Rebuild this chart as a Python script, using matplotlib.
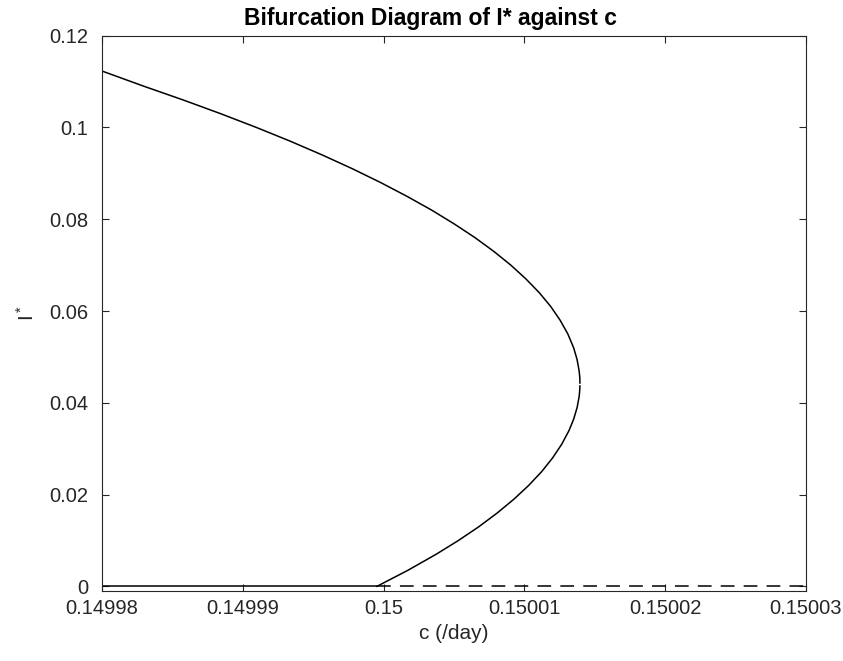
import matplotlib
matplotlib.use("Agg")
import matplotlib.pyplot as plt

plt.rcParams['font.family'] = ['Liberation Sans', 'DejaVu Sans']

# --- DATA ---
# equilibrium branch I* against c (upper branch -> turning point -> lower branch)
c_branch = [0.14998000, 0.14998296, 0.14998576, 0.14998843, 0.14999097,
            0.14999338, 0.14999565, 0.14999779, 0.14999979, 0.15000166,
            0.15000341, 0.15000501, 0.15000649, 0.15000783, 0.15000904,
            0.15001011, 0.15001106, 0.15001187, 0.15001254, 0.15001309,
            0.15001350, 0.15001374, 0.15001389, 0.15001394, 0.15001395,
            0.15001394, 0.15001390, 0.15001375, 0.15001351, 0.15001318,
            0.15001266, 0.15001201, 0.15001123, 0.15001031, 0.15000926,
            0.15000808, 0.15000677, 0.15000532, 0.15000374, 0.15000173,
            0.14999953]
I_branch = [0.1123, 0.109, 0.106, 0.103, 0.100,
            0.097, 0.094, 0.091, 0.088, 0.085,
            0.082, 0.079, 0.076, 0.073, 0.070,
            0.067, 0.064, 0.061, 0.058, 0.055,
            0.052, 0.0495, 0.047, 0.0455, 0.0442,
            0.043, 0.0415, 0.039, 0.0365, 0.034,
            0.031, 0.028, 0.025, 0.022, 0.019,
            0.016, 0.013, 0.010, 0.007, 0.0035,
            0.0]
c_turn, I_turn = 0.15001395, 0.0442

# disease-free branch I* = 0: stable (solid) then unstable (dashed)
c_zero_stable = [0.14998, 0.14999953]
c_zero_unstable = [0.14999953, 0.15003]
I_zero = [0.0, 0.0]

x_ticks = [0.14998, 0.14999, 0.15, 0.15001, 0.15002, 0.15003]
x_labels = ['0.14998', '0.14999', '0.15', '0.15001', '0.15002', '0.15003']
y_ticks = [0, 0.02, 0.04, 0.06, 0.08, 0.1, 0.12]
y_labels = ['0', '0.02', '0.04', '0.06', '0.08', '0.1', '0.12']

# --- PLOT ---
fig = plt.figure(figsize=(8.43, 6.61), dpi=100)
ax = fig.add_axes([0.121, 0.106, 0.835, 0.840])

ax.plot(c_branch, I_branch, color='black', lw=1.1, solid_joinstyle='round')
ax.plot(c_zero_stable, I_zero, color='black', lw=1.1)
ax.plot(c_zero_unstable, I_zero, color='black', lw=1.1, linestyle=(0, (9, 6)))
# small white nick at the turning point
ax.plot([c_turn], [I_turn], marker='_', color='white', ms=3, mew=1)

ax.set_xlim(0.14998, 0.15003)
ax.set_ylim(-0.001, 0.12)
ax.set_xticks(x_ticks)
ax.set_xticklabels(x_labels)
ax.set_yticks(y_ticks)
ax.set_yticklabels(y_labels)
ax.tick_params(direction='in', top=True, right=True, length=5, width=0.8,
               labelsize=14.5, colors='#262626')
ax.tick_params(axis='y', pad=10)
ax.tick_params(axis='x', pad=6)
for s in ax.spines.values():
    s.set_color('#262626')
    s.set_linewidth(0.8)

ax.set_xlabel('c (/day)', fontsize=15, color='#262626', labelpad=4)
ax.set_ylabel(r'$\mathregular{I^*}$', fontsize=15, color='#262626',
              rotation=90, labelpad=8)
ax.set_title('Bifurcation Diagram of I* against c', fontsize=16.5, fontweight='bold',
             x=0.466, pad=8)

fig.savefig('out.png', dpi=100)
